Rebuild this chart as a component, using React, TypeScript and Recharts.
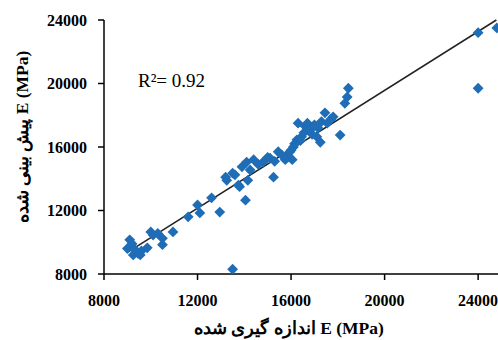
import React from 'react';
import { ScatterChart, Scatter, XAxis, YAxis, ReferenceLine, Customized } from 'recharts';

// Measured E (MPa)
const measured = [
  9100, 9000, 9250, 9450, 9550, 9850, 10000, 10300, 10500, 10500, 10950, 11600,
  12000, 12100, 12600, 12950, 13250, 13600, 13750, 14050, 13500, 13200, 13500,
  13800, 13900, 14100, 14150, 14250, 14400, 14800, 15000, 15250, 15450, 15750,
  15850, 15950, 16050, 16100, 16250, 16300, 16450, 16700, 16800, 17100, 17250,
  17450, 17800, 17550, 18100, 18300, 18400, 18450, 24000, 24000, 24800,
  9200, 9350, 9600, 9150, 10100, 15100, 15600, 16400, 16600, 17000, 16900,
  17300, 17700, 15300, 14600, 16150, 16550, 17150, 16000,
];
// Predicted E (MPa)
const predicted = [
  10150, 9600, 9200, 9300, 9200, 9650, 10650, 10550, 10250, 9850, 10650, 11600,
  12350, 11850, 12800, 11900, 13900, 14250, 13600, 12650, 8300, 14100, 14350,
  13500, 14750, 15050, 13900, 14550, 15200, 15050, 15350, 14100, 15700, 15200,
  15350, 15700, 15200, 16000, 16450, 17500, 16650, 17500, 17050, 16650, 16300,
  18150, 17900, 17500, 16750, 18750, 19150, 19700, 23200, 19700, 23500,
  9900, 9500, 9450, 9750, 10450, 15300, 15500, 16400, 17300, 17400, 16800,
  17600, 17750, 15100, 14900, 16200, 16900, 17200, 15800,
];

const xTicks = [8000, 12000, 16000, 20000, 24000];
const yTicks = [8000, 12000, 16000, 20000, 24000];
const trendX = [9000, 24780];
const trendY = [9360, 24000];
const rSquaredLabel = 'R²= 0.92';
const xLabel = 'اندازه گیری شده E (MPa)';
const yLabel = 'پیش بینی شده E (MPa)';

const data = measured.map((x, i) => ({ x, y: predicted[i] }));

const BLUE = '#1f6db6';
const FONT = 'Liberation Serif, Times New Roman, serif';

const Diamond = (props: any) => {
  const { cx, cy } = props;
  const r = 5.4;
  return (
    <path
      d={`M${cx},${cy - r}L${cx + r},${cy}L${cx},${cy + r}L${cx - r},${cy}Z`}
      fill={BLUE}
    />
  );
};

const renderXLabel = (props: any) => {
  const vb = props.viewBox;
  const x = vb.x + vb.width / 2 - 12;
  const y = vb.y + 54;
  return (
    <text x={x} y={y} textAnchor="middle" dominantBaseline="central"
      fontFamily={FONT} fontWeight="bold" fontSize={17.5} fill="#000">
      {xLabel}
    </text>
  );
};

const renderYLabel = (props: any) => {
  const vb = props.viewBox;
  const x = vb.x + 22;
  const y = vb.y + vb.height / 2 - 10;
  return (
    <text x={x} y={y} transform={`rotate(-90 ${x} ${y})`} textAnchor="middle"
      dominantBaseline="central" fontFamily={FONT} fontWeight="bold" fontSize={17.5} fill="#000">
      {yLabel}
    </text>
  );
};

const RLabel = () => (
  <text x={138} y={87} fontFamily={FONT} fontSize={19} fill="#000">
    {rSquaredLabel}
  </text>
);

export default function App() {
  const tickStyle = { fill: '#000', fontSize: 16, fontFamily: FONT, fontWeight: 'bold' };
  return (
    <div style={{ position: 'absolute', left: 0, top: 0, width: 498, height: 340, background: '#fff' }}>
      <ScatterChart width={498} height={340} margin={{ top: 20, right: 0, bottom: 0, left: 0 }}>
        <XAxis
          type="number"
          dataKey="x"
          domain={[8000, 24850]}
          ticks={xTicks}
          allowDataOverflow
          height={66}
          tickSize={6}
          tickMargin={15}
          tick={tickStyle}
          axisLine={{ stroke: '#000', strokeWidth: 1.5 }}
          tickLine={{ stroke: '#000', strokeWidth: 1.5 }}
          label={renderXLabel}
        />
        <YAxis
          type="number"
          dataKey="y"
          domain={[8000, 24000]}
          ticks={yTicks}
          allowDataOverflow
          width={104}
          tickSize={6}
          tickMargin={11}
          tick={tickStyle}
          axisLine={{ stroke: '#000', strokeWidth: 1.5 }}
          tickLine={{ stroke: '#000', strokeWidth: 1.5 }}
          label={renderYLabel}
        />
        <Scatter data={data} shape={<Diamond />} isAnimationActive={false} />
        <ReferenceLine
          segment={[{ x: trendX[0], y: trendY[0] }, { x: trendX[1], y: trendY[1] }]}
          stroke="#222"
          strokeWidth={1.5}
          ifOverflow="visible"
        />
        <Customized component={RLabel} />
      </ScatterChart>
    </div>
  );
}
